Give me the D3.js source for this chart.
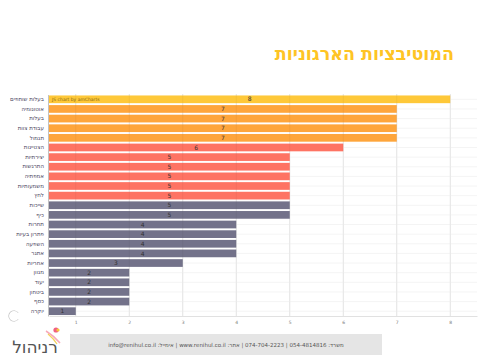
<!DOCTYPE html>
<html>
<head>
<meta charset="utf-8">
<script src="https://cdnjs.cloudflare.com/ajax/libs/d3/7.8.5/d3.min.js"></script>
<style>
  body { margin: 0; background: #fff; }
  svg { display: block; font-family: "DejaVu Sans", sans-serif; }
</style>
</head>
<body>
<div id="chart"></div>
<script>
  // chart data
  const categories = [
    "בעלות שותפים", "אוטונומיה", "בעלות", "עבודת צוות", "תגמול",
    "הצטיינות", "יצירתיות", "התרגשות", "אמפתיה", "משמעותיות", "לחץ",
    "שייכות", "כיף", "תחרות", "פתרון בעיות", "השפעה", "אתגר",
    "אחריות", "מגוון", "יעוד", "ביטחון", "כסף", "יוקרה"
  ];
  const values = [8, 7, 7, 7, 7, 6, 5, 5, 5, 5, 5, 5, 5, 4, 4, 4, 4, 3, 2, 2, 2, 2, 1];
  const groups = ["a", "b", "b", "b", "b", "c", "c", "c", "c", "c", "c",
    "d", "d", "d", "d", "d", "d", "d", "d", "d", "d", "d", "d"];
  const tickValues = [1, 2, 3, 4, 5, 6, 7, 8];

  const W = 494, H = 359;
  const color = d3.scaleOrdinal()
    .domain(["a", "b", "c", "d"])
    .range(["#fec52e", "#fea030", "#fe6c5b", "#6b6a84"]);

  const svg = d3.select("#chart").append("svg")
    .attr("width", W).attr("height", H);

  // title (rtl: "start" anchors on the right)
  svg.append("text")
    .attr("x", 454).attr("y", 60)
    .attr("text-anchor", "start")
    .attr("direction", "rtl")
    .attr("font-size", 17.5)
    .attr("font-weight", "bold")
    .attr("fill", "#fec425")
    .text("המוטיבציות הארגוניות");

  const x = d3.scaleLinear().domain([0.5, 8.5]).range([49, 477]);
  const y = d3.scaleBand().domain(categories).range([94.5, 316]).paddingInner(0.2).paddingOuter(0.1);

  // grid
  svg.append("g").selectAll("line.v").data(tickValues).enter().append("line")
    .attr("x1", d => x(d)).attr("x2", d => x(d))
    .attr("y1", 94).attr("y2", 316)
    .attr("stroke", "#e8e8e8").attr("stroke-width", 0.8);
  svg.append("g").selectAll("line.h").data(categories).enter().append("line")
    .attr("x1", 49).attr("x2", 477)
    .attr("y1", d => y(d) + y.bandwidth() / 2).attr("y2", d => y(d) + y.bandwidth() / 2)
    .attr("stroke", "#f1f1f1").attr("stroke-width", 0.8);

  const rows = categories.map((c, i) => ({ c, v: values[i], g: groups[i] }));

  // bars
  svg.append("g").selectAll("rect").data(rows).enter().append("rect")
    .attr("x", x(0.5))
    .attr("y", d => y(d.c))
    .attr("width", d => x(d.v) - x(0.5))
    .attr("height", y.bandwidth())
    .attr("fill", d => color(d.g))
    .attr("opacity", 0.95);

  // vertical grid over bars (faint)
  svg.append("g").selectAll("line").data(tickValues).enter().append("line")
    .attr("x1", d => x(d)).attr("x2", d => x(d))
    .attr("y1", 94).attr("y2", 316)
    .attr("stroke", "#000").attr("stroke-opacity", 0.06).attr("stroke-width", 0.8);

  // value labels
  svg.append("g").selectAll("text").data(rows).enter().append("text")
    .attr("x", d => (x(0.5) + x(d.v)) / 2)
    .attr("y", d => y(d.c) + y.bandwidth() / 2)
    .attr("dy", "0.35em")
    .attr("text-anchor", "middle")
    .attr("font-size", 6)
    .attr("fill", "#333")
    .text(d => d.v);

  // watermark
  svg.append("text")
    .attr("x", x(0.5) + 3).attr("y", y(categories[0]) + y.bandwidth() / 2)
    .attr("dy", "0.35em").attr("font-size", 4.5).attr("fill", "#8a6a10")
    .text("JS chart by amCharts");

  // left axis with category labels
  const yAxis = svg.append("g")
    .attr("transform", "translate(48,0)")
    .call(d3.axisLeft(y).tickSize(0).tickPadding(4));
  yAxis.select(".domain").attr("stroke", "#999").attr("stroke-width", 0.6);
  yAxis.selectAll("text")
    .attr("font-size", 5.5).attr("fill", "#4a4560")
    .attr("font-family", "DejaVu Sans, sans-serif")
    .attr("direction", "rtl").attr("text-anchor", "start");

  // bottom axis
  const xAxis = svg.append("g")
    .attr("transform", "translate(0,316)")
    .call(d3.axisBottom(x).tickValues(tickValues).tickSize(0).tickPadding(5));
  xAxis.select(".domain").attr("stroke", "#ccc").attr("stroke-width", 0.6);
  xAxis.selectAll("text").attr("font-size", 4.5).attr("fill", "#777")
    .attr("font-family", "DejaVu Sans, sans-serif");

  // little amCharts icon arc
  svg.append("path")
    .attr("d", d3.arc()({ innerRadius: 5, outerRadius: 5.6, startAngle: Math.PI * 0.7, endAngle: Math.PI * 2.3 }))
    .attr("transform", "translate(14,316)")
    .attr("fill", "#bbb");

  // footer
  svg.append("rect")
    .attr("x", 70).attr("y", 334).attr("width", 312).attr("height", 21)
    .attr("fill", "#e5e5e5");
  svg.append("text")
    .attr("x", 226).attr("y", 347)
    .attr("text-anchor", "middle")
    .attr("direction", "rtl")
    .attr("font-size", 5.5).attr("fill", "#555")
    .text("משרד: 054-4814816 | 074-704-2223 | אתר: www.renihul.co.il | אימייל: info@renihul.co.il");

  // logo
  svg.append("text")
    .attr("x", 35).attr("y", 353)
    .attr("text-anchor", "middle")
    .attr("font-size", 17).attr("fill", "#555")
    .attr("direction", "rtl")
    .text("רניהול");
  svg.append("path").attr("d", "M46,331 Q54,336 60,343").attr("stroke", "#f7a8b8").attr("stroke-width", 1.5).attr("fill", "none");
  svg.append("path").attr("d", "M48,334 Q54,339 57,344").attr("stroke", "#f3d25a").attr("stroke-width", 1.2).attr("fill", "none");
  svg.append("circle").attr("cx", 56).attr("cy", 330).attr("r", 2.6).attr("fill", "#f06080");
  svg.append("circle").attr("cx", 58).attr("cy", 330).attr("r", 1.6).attr("fill", "#f7c63a");
</script>
</body>
</html>
